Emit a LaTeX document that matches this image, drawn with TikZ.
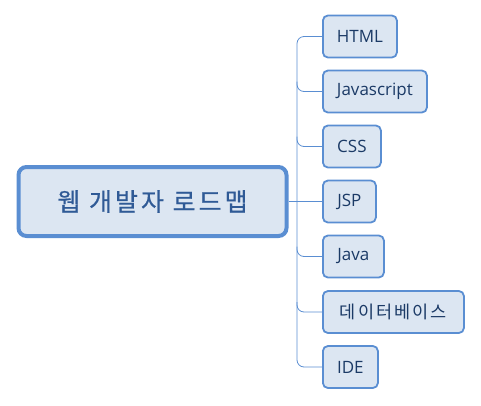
\documentclass[tikz,border=0pt]{standalone}
\usepackage{fontspec}
\usetikzlibrary{calc}
\setmainfont{Open Sans}
\newfontfamily\krfont{Noto Sans CJK KR}
\newfontfamily\krsp[LetterSpace=12]{Noto Sans CJK KR}
\newfontfamily\krmain[LetterSpace=12,FakeBold=0.6]{Noto Sans CJK KR}
\definecolor{boxfill}{HTML}{DCE6F2}
\definecolor{boxline}{HTML}{5A8ED2}
\definecolor{txt}{HTML}{1B3A66}
\definecolor{maintxt}{HTML}{2F5A96}
\definecolor{conncol}{HTML}{5A8ED2}
\begin{document}
\begin{tikzpicture}[x=1pt,y=-1pt,
  child/.style={draw=boxline, fill=boxfill, line width=1.8pt, rounded corners=5pt,
    minimum height=42pt, inner sep=0pt, anchor=west, text=txt,
    font=\fontsize{17}{20}\selectfont},
  mainbox/.style={draw=boxline, fill=boxfill, line width=4pt, rounded corners=8pt,
    minimum width=268pt, minimum height=69pt, inner sep=0pt, text=maintxt,
    font=\krmain\fontsize{25}{28}\selectfont},
  conn/.style={draw=conncol, line width=0.8pt}]
\useasboundingbox (0,0) rectangle (481,405);
\node[mainbox] (root) at (152.5,201.5) {웹 개발자 로드맵};
\node[child, minimum width=74pt] (html) at (322,36.5) {HTML};
\node[child, minimum width=104pt] (js) at (322,91.5) {Javascript};
\node[child, minimum width=58pt] (css) at (322,146.5) {CSS};
\node[child, minimum width=53pt] (jsp) at (322,201.5) {JSP};
\node[child, minimum width=61pt] (java) at (322,256.5) {Java};
\node[child, minimum width=141pt, font=\krsp\fontsize{17.5}{20}\selectfont] (db) at (322,312) {데이터베이스};
\node[child, minimum width=55pt] (ide) at (322,367) {IDE};
\coordinate (t) at (297,0);
\draw[conn, rounded corners=7pt] (html.west) -| (ide.west -| t) -- (ide.west);
\draw[conn] (root.east) -- (jsp.west);
\foreach \n in {js,css,java,db}{
  \draw[conn, rounded corners=7pt] ($(\n.west -| t)+(0,-10)$) -- (\n.west -| t) -- (\n.west);
}
\end{tikzpicture}
\end{document}
